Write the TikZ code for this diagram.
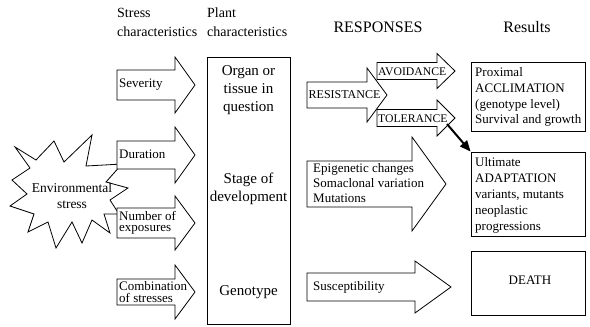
\documentclass[tikz,border=0pt]{standalone}
\usepackage{fontspec}
\setmainfont{Liberation Serif}
\usetikzlibrary{arrows.meta}
\newcommand\blockarr[7]{% name, left, base, tip, cy, body half, head half
  \draw[shp] (#2,#5-#6) -- (#3,#5-#6) -- (#3,#5-#7) -- (#4,#5) -- (#3,#5+#7) -- (#3,#5+#6) -- (#2,#5+#6) -- cycle;
  \coordinate (#1tip) at (#4,#5);}
\begin{document}
\begin{tikzpicture}[x=1pt,y=-1pt,
  shp/.style={draw=black,line width=0.8pt,fill=white,line join=miter},
  lbl/.style={inner sep=0pt,anchor=west,align=left,font=\fontsize{13}{12}\selectfont},
  hdr/.style={inner sep=0pt,align=left,font=\fontsize{14}{19}\selectfont},
  big/.style={inner sep=0pt,font=\fontsize{16}{19}\selectfont},
  ptxt/.style={inner sep=0pt,align=center,font=\fontsize{15}{18}\selectfont},
  caps/.style={inner sep=0pt,anchor=west,font=\fontsize{11.7}{13}\selectfont},
  resbox/.style={draw=black,line width=0.8pt,minimum width=114pt,inner sep=0pt},
  restxt/.style={inner sep=0pt,anchor=west,align=left,font=\fontsize{13}{15.8}\selectfont},
  thickarr/.style={line width=2pt,-{Triangle[length=11pt,width=9pt]}}]
\useasboundingbox (0,0) rectangle (590,327);

% headers
\node[hdr,anchor=west] (hstress) at (117,22.5) {Stress\\characteristics};
\node[hdr,anchor=west] (hplant) at (207,22.5) {Plant\\characteristics};
\node[big] (hresp) at (378,27) {RESPONSES};
\node[big] (hres) at (527,27) {Results};

% environmental stress star
\draw[shp] (15,147) -- (36,160) -- (54,141) -- (64,162) -- (92,135) -- (86,166)
  -- (122,164) -- (106,182) -- (128,188) -- (110,200) -- (119,214) -- (104,214)
  -- (110,233) -- (92,220) -- (82,243) -- (72,222) -- (56,248) -- (48,222)
  -- (28,232) -- (34,214) -- (10,206) -- (27,194) -- (12,180) -- (30,168) -- cycle;
\node[inner sep=0pt,align=center,font=\fontsize{13.5}{16}\selectfont] (env) at (72,196) {Environmental\\stress};

% stress characteristic arrows
\blockarr{sev}{117}{175}{195}{85}{15}{28}
\node[lbl] (sevt) at (119,85) {Severity};
\blockarr{dur}{117}{175}{195}{155}{14}{28}
\node[lbl] (durt) at (119,154) {Duration};
\blockarr{num}{117}{175}{195}{223}{15}{27}
\node[lbl,font=\fontsize{13}{11.5}\selectfont] (numt) at (119,223) {Number of\\exposures};
\blockarr{com}{117}{175}{195}{292}{13}{27}
\node[lbl,font=\fontsize{13}{11.5}\selectfont] (comt) at (119,292) {Combination\\of stresses};

% plant box
\node[draw=black,line width=0.8pt,minimum width=83pt,minimum height=267pt,inner sep=0pt] (plant) at (248.5,190.5) {};
\node[ptxt] (organ) at (248.5,90) {Organ or\\tissue in\\question};
\node[ptxt] (stage) at (248.5,189) {Stage of\\development};
\node[ptxt] (geno) at (248.5,292) {Genotype};

% responses
\blockarr{res}{307}{367}{387}{95}{13}{27}
\node[caps,font=\fontsize{12}{13}\selectfont] (rest) at (308.5,95) {RESISTANCE};
\blockarr{avo}{377}{437}{455}{71}{8.5}{17.5}
\node[caps] (avot) at (378,71.5) {AVOIDANCE};
\blockarr{tol}{377}{437}{455}{118}{8.5}{18}
\node[caps] (tolt) at (378,119) {TOLERANCE};
\blockarr{epi}{307}{412}{446}{184}{23}{47}
\node[lbl,font=\fontsize{13}{15}\selectfont] (epit) at (313,183) {Epigenetic changes\\Somaclonal variation\\Mutations};
\blockarr{sus}{307}{415}{451}{287}{14}{26}
\node[lbl] (sust) at (313,287) {Susceptibility};

% results
\node[resbox,minimum height=69pt] (prox) at (528,96.5) {};
\node[restxt] (proxt) at (475,97) {Proximal\\ACCLIMATION\\(genotype level)\\Survival and growth};
\node[resbox,minimum height=84pt] (ult) at (528,194) {};
\node[restxt,font=\fontsize{13}{16}\selectfont] (ultt) at (475,195) {Ultimate\\ADAPTATION\\variants, mutants\\neoplastic\\progressions};
\node[resbox,minimum height=64pt] (death) at (528,283) {};
\node[inner sep=0pt,font=\fontsize{13}{15}\selectfont] (deatht) at (530,280) {DEATH};

\coordinate (tolstart) at (447,124);
\draw[thickarr] (tolstart) -- (ult.north west);
\end{tikzpicture}
\end{document}
